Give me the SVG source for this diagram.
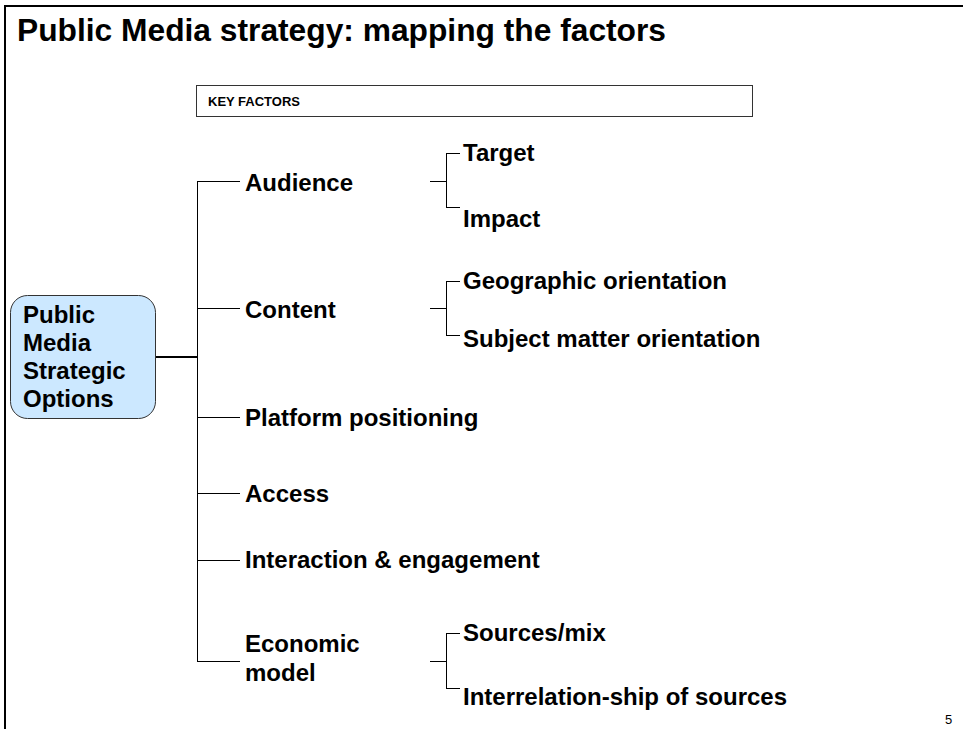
<svg xmlns="http://www.w3.org/2000/svg" width="963" height="729" viewBox="0 0 963 729">
<style>
text{font-family:"Liberation Sans",Arial,sans-serif;font-weight:bold;fill:#000}
.item{font-size:24px}
.ln{stroke:#000;stroke-width:1;fill:none}
.thick{stroke-width:2}
.pg{font-weight:normal;font-size:13px}
</style>
<rect x="0" y="0" width="963" height="729" fill="#fff"/>
<path d="M5,729 V6 H963" fill="none" stroke="#000" stroke-width="2"/>
<text x="17" y="41" font-size="32" textLength="649" lengthAdjust="spacingAndGlyphs">Public Media strategy: mapping the factors</text>
<g id="header">
<rect x="196.5" y="85.5" width="556" height="31" fill="#fff" stroke="#333" stroke-width="1"/>
<text x="208" y="106" font-size="13">KEY FACTORS</text>
</g>
<g id="connectors">
<path class="ln thick" d="M155,357 H197"/>
<path class="ln" d="M197.5,181 V661 M197,181.5 H240 M197,308.5 H240 M197,417.5 H240 M197,493.5 H240 M197,560.5 H240 M197,661.5 H240"/>
<path class="ln" d="M430,181.5 H446 M446.5,153 V208 M446,153.5 H460 M446,207.5 H460"/>
<path class="ln" d="M430,308.5 H446 M446.5,281 V336 M446,281.5 H460 M446,335.5 H460"/>
<path class="ln" d="M430,661.5 H446 M446.5,633 V689 M446,633.5 H460 M446,688.5 H460"/>
</g>
<g id="root">
<rect x="10.5" y="295.5" width="145" height="123" rx="17" fill="#cce8ff" stroke="#333" stroke-width="1"/>
<text class="item" x="23" y="323">Public</text>
<text class="item" x="23" y="351">Media</text>
<text class="item" x="23" y="379">Strategic</text>
<text class="item" x="23" y="407">Options</text>
</g>
<g id="audience"><text class="item" x="245" y="191">Audience</text></g>
<g id="target"><text class="item" x="463" y="161">Target</text></g>
<g id="impact"><text class="item" x="463" y="227">Impact</text></g>
<g id="content"><text class="item" x="245" y="318">Content</text></g>
<g id="geographic"><text class="item" x="463" y="289">Geographic orientation</text></g>
<g id="subject"><text class="item" x="463" y="347">Subject matter orientation</text></g>
<g id="platform"><text class="item" x="245" y="426">Platform positioning</text></g>
<g id="access"><text class="item" x="245" y="502">Access</text></g>
<g id="interaction"><text class="item" x="245" y="568">Interaction &amp; engagement</text></g>
<g id="economic"><text class="item" x="245" y="652">Economic</text><text class="item" x="245" y="681">model</text></g>
<g id="sources"><text class="item" x="463" y="641">Sources/mix</text></g>
<g id="interrelation"><text class="item" x="463" y="705">Interrelation-ship of sources</text></g>
<text class="pg" x="945" y="724">5</text>
</svg>
